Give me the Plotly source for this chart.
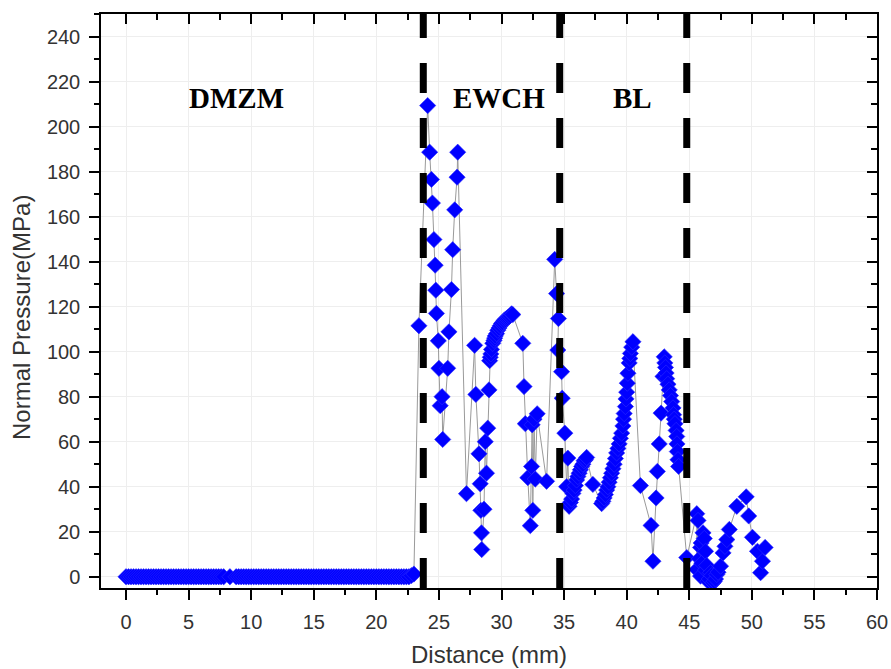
import plotly.graph_objects as go

# ---- data ----
baseline_x = [0.0, 0.2, 0.4, 0.6, 0.8, 1.0, 1.2, 1.4, 1.6, 1.8,
              2.0, 2.2, 2.4, 2.6, 2.8, 3.0, 3.2, 3.4, 3.6, 3.8,
              4.0, 4.2, 4.4, 4.6, 4.8, 5.0, 5.2, 5.4, 5.6, 5.8,
              6.0, 6.2, 6.4, 6.6, 6.8, 7.0, 7.2, 7.4, 7.6, 7.8,
              8.3,
              8.8, 9.0, 9.2, 9.4, 9.6, 9.8, 10.0, 10.2, 10.4, 10.6,
              10.8, 11.0, 11.2, 11.4, 11.6, 11.8, 12.0, 12.2, 12.4, 12.6,
              12.8, 13.0, 13.2, 13.4, 13.6, 13.8, 14.0, 14.2, 14.4, 14.6,
              14.8, 15.0, 15.2, 15.4, 15.6, 15.8, 16.0, 16.2, 16.4, 16.6,
              16.8, 17.0, 17.2, 17.4, 17.6, 17.8, 18.0, 18.2, 18.4, 18.6,
              18.8, 19.0, 19.2, 19.4, 19.6, 19.8, 20.0, 20.2, 20.4, 20.6,
              20.8, 21.0, 21.2, 21.4, 21.6, 21.8, 22.0, 22.2, 22.4, 22.6,
              22.8, 23.0]
baseline_y = [0, 0, 0, 0, 0, 0, 0, 0, 0, 0,
              0, 0, 0, 0, 0, 0, 0, 0, 0, 0,
              0, 0, 0, 0, 0, 0, 0, 0, 0, 0,
              0, 0, 0, 0, 0, 0, 0, 0, 0, 0,
              0,
              0, 0, 0, 0, 0, 0, 0, 0, 0, 0,
              0, 0, 0, 0, 0, 0, 0, 0, 0, 0,
              0, 0, 0, 0, 0, 0, 0, 0, 0, 0,
              0, 0, 0, 0, 0, 0, 0, 0, 0, 0,
              0, 0, 0, 0, 0, 0, 0, 0, 0, 0,
              0, 0, 0, 0, 0, 0, 0, 0, 0, 0,
              0, 0, 0, 0, 0, 0, 0, 0, 0, 0,
              0.5, 1.2]

active_x = [23.4, 24.1, 24.26, 24.4, 24.48, 24.6, 24.7, 24.75, 24.8, 24.95,
            25.0, 25.1, 25.25, 25.3, 25.7, 25.8, 26.0, 26.1, 26.26, 26.45,
            26.5, 27.2, 27.85, 27.95, 28.2, 28.3, 28.35, 28.4, 28.42, 28.6,
            28.7, 28.8, 28.9, 29.0,
            29.05, 29.1, 29.15, 29.2, 29.3, 29.4, 29.45, 29.5, 29.6, 29.7,
            29.8, 29.9, 30.0, 30.1, 30.2, 30.3, 30.4, 30.5, 30.6, 30.7,
            30.8, 30.9,
            31.7, 31.8, 31.9, 32.1, 32.3, 32.4, 32.45, 32.5, 32.6, 32.7,
            32.85, 33.6, 34.25, 34.4, 34.55, 34.5, 34.8, 34.85, 35.06, 35.2,
            35.3,
            35.4, 35.5, 35.6, 35.7, 35.8, 35.9, 36.0, 36.1, 36.2, 36.3,
            36.4, 36.5, 36.6, 36.7, 36.8,
            37.3, 38.0, 38.1, 38.2, 38.3, 38.4, 38.5, 38.6, 38.7, 38.8,
            38.9, 39.0, 39.1, 39.2, 39.3, 39.4, 39.5, 39.6, 39.7, 39.75,
            39.8, 39.9, 39.95, 40.0, 40.05, 40.1, 40.2, 40.25, 40.3, 40.4,
            40.5,
            41.1, 41.95, 42.1, 42.35, 42.45, 42.6, 42.75, 42.9, 43.0, 43.05,
            43.1, 43.15, 43.2, 43.3, 43.4, 43.5, 43.6, 43.7, 43.75, 43.8,
            43.86, 43.95, 44.0, 44.02, 44.05, 44.1, 44.15,
            44.8, 45.6, 45.6, 45.7, 45.8, 45.9, 45.9, 45.95, 46.0, 46.1,
            46.2, 46.3, 46.3, 46.4, 46.5, 46.6, 46.7, 46.8, 46.9, 47.0,
            47.1, 47.2, 47.3, 47.5, 47.7, 47.85, 48.0, 48.2, 48.8, 49.55,
            49.75, 50.05, 50.45, 50.7, 50.85, 51.06]
active_y = [111.5, 209.3, 188.6, 176.5, 166, 149.8, 138.4, 127.3, 117, 104.8,
            92.6, 76, 80, 61, 92.6, 108.8, 127.6, 145.3, 163, 177.5,
            188.6, 36.9, 102.8, 81, 54.6, 41.3, 29.5, 19.5, 12.1, 30,
            60, 46, 66, 83,
            96, 97.5, 99, 101, 103.7, 105, 106, 107, 108, 109.5,
            110.5, 111.5, 112.5, 113, 113.8, 114.3, 114.7, 115, 115.5, 116,
            116.8, 116.5,
            103.7, 84.5, 68, 44, 22.7, 49, 67.5, 29.5, 70, 43.4,
            72.4, 42.4, 141, 125.8, 114.7, 100.7, 91.1, 79.3, 63.8, 40,
            52.7,
            31.3, 33, 34.5, 37, 38.5, 40.5, 43, 44.5, 46, 47.5,
            49, 50, 51.5, 52, 53,
            41, 32.5, 33.5, 35, 36.5, 38.5, 40, 42, 44, 46,
            48, 50, 52.5, 55, 57, 59, 61.5, 63.8, 67, 70,
            72.5, 75.6, 79, 82, 86, 90.4, 95, 97, 99.2, 102,
            104.4,
            40.5, 22.8, 6.9, 35, 46.8, 59, 72.7, 89, 97.7, 95,
            93, 90.5, 88, 85.5, 83, 80.5, 77.8, 75, 72, 70,
            68, 65, 62.3, 59, 55.6, 52, 49,
            8.5, 28, 3.2, 25, 8, 13, 0.3, 15, 6, 19.5,
            17, 11.3, 3, 5, -2, -1, 1.8, 0.5, -2.7, -2,
            -1, 1, 2, 4.7, 10.6, 13.5, 16.5, 21, 31.3, 35.5,
            27, 17.5, 11.3, 1.8, 6.9, 13]

zone_boundaries = [23.75, 34.65, 44.8]
zone_labels = ["DMZM", "EWCH", "BL"]
zone_label_x = [8.82, 29.76, 40.5]
zone_label_y = 212.8

x_ticks = [0, 5, 10, 15, 20, 25, 30, 35, 40, 45, 50, 55, 60]
x_minor = [2.5, 7.5, 12.5, 17.5, 22.5, 27.5, 32.5, 37.5, 42.5, 47.5, 52.5, 57.5]
y_ticks = [0, 20, 40, 60, 80, 100, 120, 140, 160, 180, 200, 220, 240]
y_minor = [10, 30, 50, 70, 90, 110, 130, 150, 170, 190, 210, 230, 250]

distance = baseline_x + active_x
pressure = baseline_y + active_y

X_RANGE = [-2, 60]
Y_RANGE = [-5, 250]

fig = go.Figure()
fig.add_trace(go.Scatter(
    x=distance, y=pressure, mode="lines+markers",
    line=dict(color="#9a9a9a", width=1),
    marker=dict(symbol="diamond", size=12.5, color="#0000ff",
                line=dict(width=0.6, color="#2a2aff")),
    showlegend=False, hoverinfo="x+y",
))
# dummy trace so that the mirrored (inward-tick) axes are drawn
fig.add_trace(go.Scatter(x=[], y=[], xaxis="x2", yaxis="y2", showlegend=False))

for xb in zone_boundaries:
    fig.add_shape(type="line", xref="x", yref="y", x0=xb, x1=xb,
                  y0=Y_RANGE[0], y1=Y_RANGE[1], layer="above",
                  line=dict(color="black", width=7, dash="30px,25px"))

for txt, xl in zip(zone_labels, zone_label_x):
    fig.add_annotation(x=xl, y=zone_label_y, xref="x", yref="y",
                       text="<b>%s</b>" % txt, showarrow=False,
                       xanchor="center", yanchor="middle",
                       font=dict(family="Liberation Serif", size=29, color="black"))

fig.add_annotation(x=-0.1018, y=0.4704, xref="paper", yref="paper",
                   text="Normal Pressure(MPa)", textangle=-90, showarrow=False,
                   xanchor="center", yanchor="middle",
                   font=dict(family="Liberation Sans", size=24, color="#333333"))

tickfont = dict(family="Liberation Sans", size=20, color="#333333")
common = dict(showline=True, linecolor="black", linewidth=1.5, zeroline=False,
              tickcolor="black", tickwidth=1.5, automargin=False)

fig.update_layout(
    width=891, height=669, autosize=False,
    margin=dict(l=101, r=14, t=14, b=81),
    paper_bgcolor="white", plot_bgcolor="white",
    showlegend=False,
    xaxis=dict(range=X_RANGE, tickmode="array", tickvals=x_ticks,
               ticks="outside", ticklen=10, tickfont=tickfont,
               ticklabelstandoff=5,
               showgrid=True, gridcolor="#eeeeee", gridwidth=1,
               minor=dict(ticks="outside", ticklen=5, tickvals=x_minor,
                          tickcolor="black", tickwidth=1.5, showgrid=False),
               title=dict(text="Distance (mm)", standoff=14,
                          font=dict(family="Liberation Sans", size=24, color="#333333")),
               **common),
    yaxis=dict(range=Y_RANGE, tickmode="array", tickvals=y_ticks,
               ticks="outside", ticklen=10, tickfont=tickfont,
               ticklabelstandoff=5,
               showgrid=True, gridcolor="#eeeeee", gridwidth=1,
               minor=dict(ticks="outside", ticklen=5, tickvals=y_minor,
                          tickcolor="black", tickwidth=1.5, showgrid=False),
               **common),
    xaxis2=dict(range=X_RANGE, overlaying="x", side="top", anchor="y2",
                tickmode="array", tickvals=x_ticks, ticks="inside", ticklen=10,
                showticklabels=False, showgrid=False,
                minor=dict(ticks="inside", ticklen=6, tickvals=x_minor,
                           tickcolor="black", tickwidth=1.5, showgrid=False),
                **common),
    yaxis2=dict(range=Y_RANGE, overlaying="y", side="right", anchor="x2",
                tickmode="array", tickvals=y_ticks, ticks="inside", ticklen=10,
                showticklabels=False, showgrid=False,
                minor=dict(ticks="inside", ticklen=6, tickvals=y_minor,
                           tickcolor="black", tickwidth=1.5, showgrid=False),
                **common),
)

fig.write_html("out.html")
